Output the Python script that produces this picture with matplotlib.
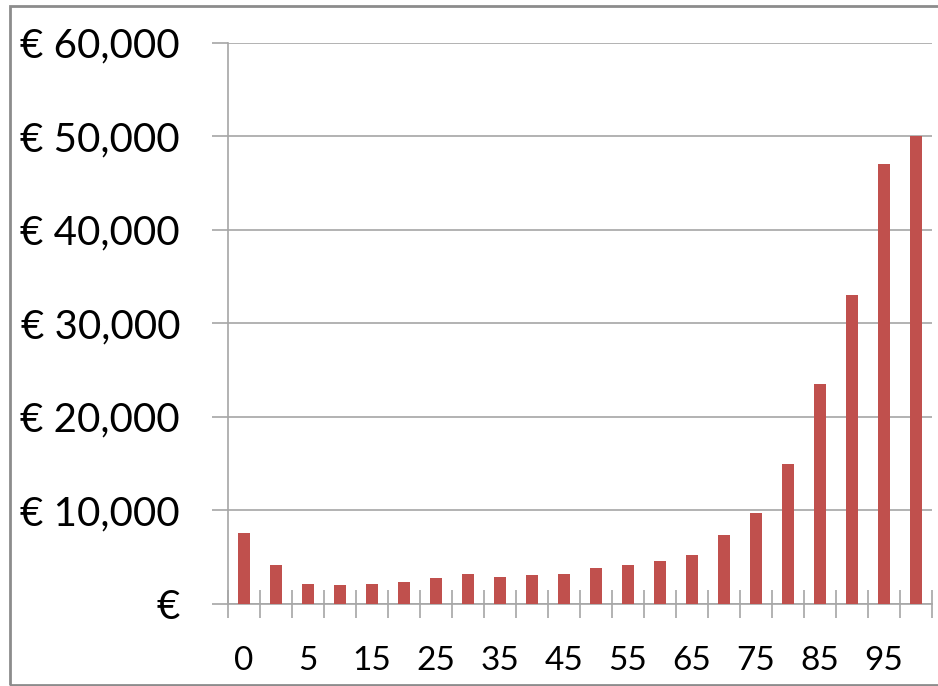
import matplotlib
matplotlib.use("Agg")
import matplotlib.pyplot as plt
from matplotlib.patches import Rectangle
from matplotlib.ticker import FuncFormatter

# age groups and cost per person (euro)
ages = [0, 1, 5, 10, 15, 20, 25, 30, 35, 40, 45, 50, 55, 60, 65, 70, 75, 80, 85, 90, 95, 100]
costs = [7600, 4170, 2140, 2000, 2140, 2390, 2780, 3200, 2920, 3060, 3200, 3880,
         4170, 4560, 5270, 7340, 9760, 14970, 23480, 33060, 47030, 50000]

plt.rcParams['font.family'] = ['Lato', 'DejaVu Sans']

W, H = 938, 686
fig = plt.figure(figsize=(W / 100, H / 100), dpi=100)
ax = fig.add_axes([228 / W, (H - 604) / H, (932 - 228) / W, (604 - 42.7) / H])

xs = list(range(len(ages)))
ax.bar(xs, costs, width=0.4, color='#C0504D', zorder=3)

ax.set_xlim(-0.5, len(ages) - 0.5)
ax.set_ylim(0, 60000)
ax.set_yticks(range(0, 60001, 10000))

def euro(v, pos):
    if v == 0:
        return '€'
    return '€ {:,.0f}'.format(v)

ax.yaxis.set_major_formatter(FuncFormatter(euro))
ax.yaxis.grid(True, color='#a6a6a6', linewidth=1.2, zorder=0)
ax.tick_params(axis='y', length=11.5, width=1.2, color='#a6a6a6', pad=23,
               labelsize=29, labelcolor='black')

# x labels on every other category
ax.set_xticks(xs[::2])
ax.set_xticklabels([str(a) for a in ages[::2]])
ax.set_xticks([i - 0.5 for i in range(len(ages) + 1)], minor=True)
ax.tick_params(axis='x', which='major', length=0, pad=30, labelsize=24)
ax.tick_params(axis='x', which='minor', direction='inout', length=19.5,
               width=1.2, color='#a6a6a6')

for s in ['top', 'right']:
    ax.spines[s].set_visible(False)
for s in ['left', 'bottom']:
    ax.spines[s].set_color('#a6a6a6')
    ax.spines[s].set_linewidth(1.2)

# chart area border
fig.patches.append(Rectangle((10 / W, 1.5 / H), 1.0, (H - 7.5) / H,
                             transform=fig.transFigure, fill=False,
                             edgecolor='#8c8c8c', linewidth=2))

fig.savefig('out.png', dpi=100)
